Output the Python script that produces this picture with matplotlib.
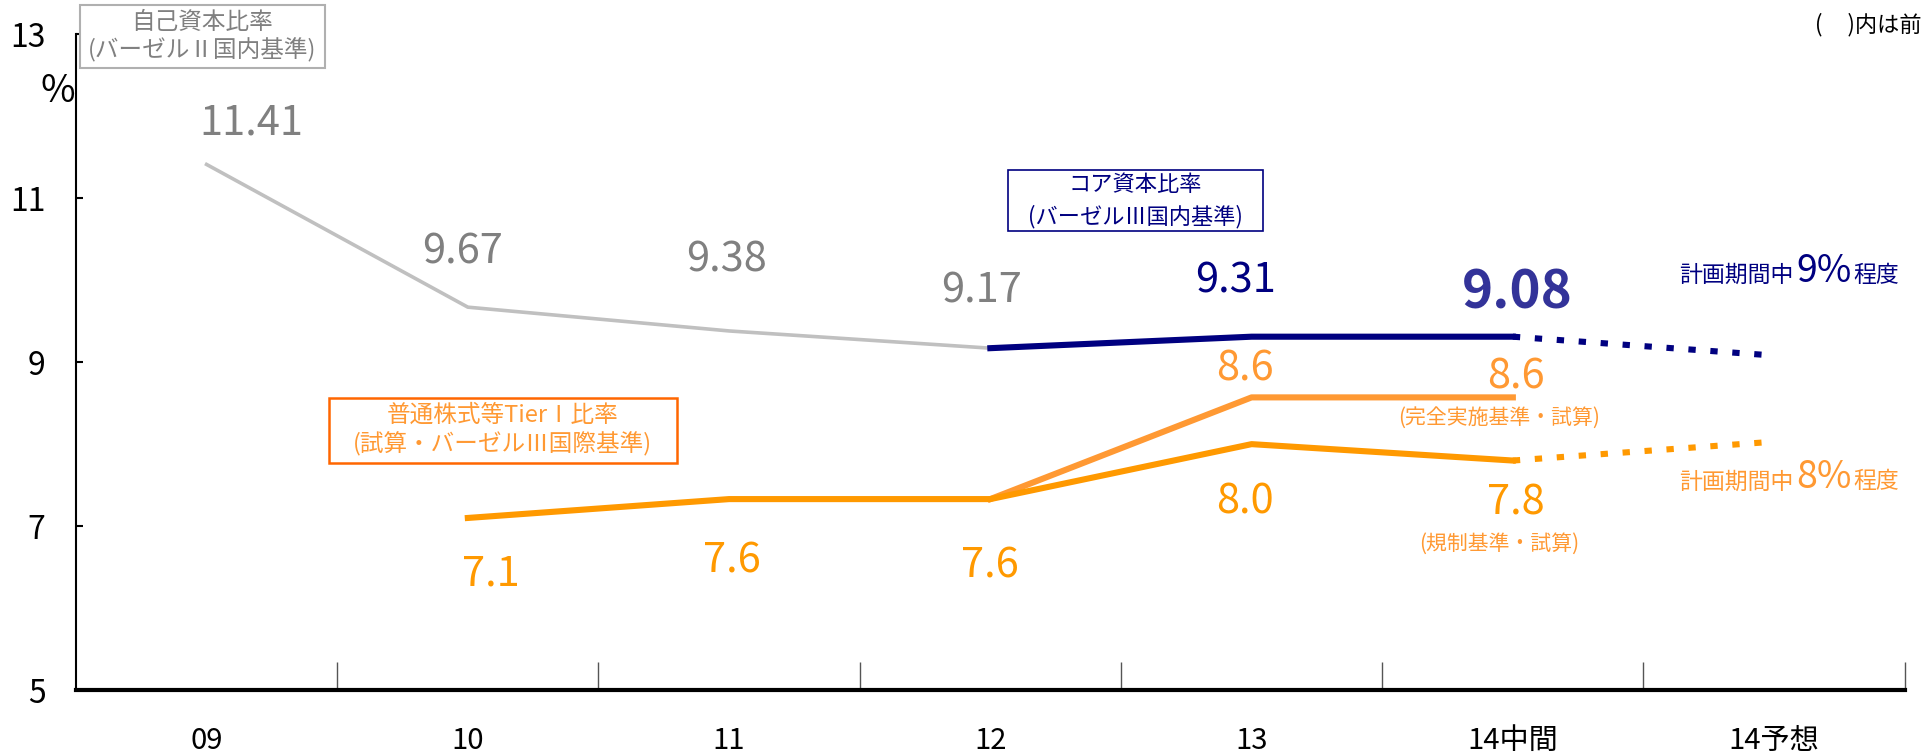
import matplotlib.pyplot as plt
from matplotlib.patches import Rectangle

plt.rcParams['font.family'] = ['Noto Sans CJK JP', 'DejaVu Sans']

# Data
categories = ["09", "10", "11", "12", "13", "14中間", "14予想"]
x = list(range(len(categories)))

# 自己資本比率 (バーゼルII国内基準)
basel2 = [11.41, 9.67, 9.38, 9.17]
basel2_labels = ["11.41", "9.67", "9.38", "9.17"]

# コア資本比率 (バーゼルIII国内基準)
core = [9.17, 9.31, 9.31]
core_plan = [9.31, 9.08]

# 普通株式等TierI比率 (規制基準・試算)
cet1 = [7.1, 7.33, 7.33, 8.0, 7.8]
cet1_plan = [7.8, 8.03]
cet1_labels = ["7.1", "7.6", "7.6", "8.0", "7.8"]

# 完全実施基準・試算
cet1_full = [7.33, 8.57, 8.57]

GRAY_LINE = '#c0c0c0'
GRAY_TEXT = '#808080'
NAVY = '#000080'
NAVY2 = '#333399'
ORANGE = '#ff9900'
ORANGE_LT = '#ff9933'
ORANGE_EDGE = '#ff6600'

fig = plt.figure(figsize=(19.23, 7.53), dpi=100)
ax = fig.add_axes([0.0395, 0.0834, 0.951, 0.8714])

ax.plot(x[0:4], basel2, color=GRAY_LINE, lw=2.6, zorder=2)
ax.plot(x[3:6], core, color=NAVY, lw=4.4, zorder=3)
ax.plot(x[5:7], core_plan, color=NAVY, lw=4.4, ls=(0, (1.2, 2.4)),
        dash_capstyle='butt', zorder=3)
ax.plot(x[3:6], cet1_full, color=ORANGE_LT, lw=4.4, zorder=3)
ax.plot(x[1:6], cet1, color=ORANGE, lw=4.4, zorder=3)
ax.plot(x[5:7], cet1_plan, color=ORANGE, lw=4.4, ls=(0, (1.2, 2.4)),
        dash_capstyle='butt', zorder=3)

ax.set_xlim(-0.5, 6.5)
ax.set_ylim(5, 13)
ax.set_yticks([5, 7, 9, 11, 13])
ax.set_xticks([i + 0.5 for i in range(7)], minor=False)
ax.set_xticklabels([])
ax.set_xticks(x, minor=True)
ax.set_xticklabels(categories, minor=True)
ax.tick_params(axis='x', which='major', direction='in', length=20, width=1, color='#555555')
ax.tick_params(axis='x', which='minor', length=0, pad=26, labelsize=21)
ax.tick_params(axis='y', direction='in', length=5, width=1.5, pad=22, labelsize=23)
for s in ['top', 'right']:
    ax.spines[s].set_visible(False)
ax.spines['bottom'].set_linewidth(3)
ax.spines['left'].set_linewidth(1.5)

num = dict(ha='center', va='center', fontsize=30)

# Gray labels
gray_pos = [(0.17, 11.91), (0.98, 10.34), (1.99, 10.24), (2.965, 9.87)]
for (px, py), t in zip(gray_pos, basel2_labels):
    ax.text(px, py, t, color=GRAY_TEXT, **num)

# Navy labels
ax.text(3.94, 9.99, "9.31", color=NAVY, **num)
ax.text(5.016, 9.84, "9.08", color=NAVY2, ha='center', va='center',
        fontsize=38, fontweight='bold')

# Orange labels
orange_pos = [(1.087, 6.42), (2.012, 6.57), (2.998, 6.52), (3.974, 7.30), (5.01, 7.28)]
for (px, py), t in zip(orange_pos, cet1_labels):
    ax.text(px, py, t, color=ORANGE, **num)
ax.text(3.974, 8.91, "8.6", color=ORANGE_LT, **num)
ax.text(5.01, 8.82, "8.6", color=ORANGE_LT, **num)
ax.text(4.946, 8.32, "(完全実施基準・試算)", color=ORANGE_LT, ha='center', va='center', fontsize=15)
ax.text(4.946, 6.79, "(規制基準・試算)", color=ORANGE_LT, ha='center', va='center', fontsize=15)


# Plan annotations: small text / big percentage / small text on one baseline
def plan_label(xc, yb, big, color):
    ax.text(xc, yb, big, ha='center', va='baseline', color=color, fontsize=27)
    ax.annotate("計画期間中", (xc, yb), ha='right', va='baseline', color=color, fontsize=16.5,
                xytext=(-22, 0), textcoords='offset points')
    ax.annotate("程度", (xc, yb), ha='left', va='baseline', color=color, fontsize=16.5,
                xytext=(21, 0), textcoords='offset points')


plan_label(6.19, 9.98, "9%", NAVY)
plan_label(6.19, 7.46, "8%", ORANGE_LT)


# Boxed series titles
def box_title(x0, x1, y0, y1, text, tcolor, ecolor, fs, lsp, lw):
    ax.add_patch(Rectangle((x0, y0), x1 - x0, y1 - y0, fc='white', ec=ecolor, lw=lw,
                           clip_on=False, zorder=4))
    ax.text((x0 + x1) / 2, (y0 + y1) / 2, text, color=tcolor, ha='center', va='center',
            fontsize=fs, linespacing=lsp, zorder=5, clip_on=False)


box_title(-0.486, 0.453, 12.582, 13.358, "自己資本比率\n(バーゼルⅡ国内基準)",
          GRAY_TEXT, '#b0b0b0', 17, 1.2, 1.5)
box_title(3.068, 4.045, 10.597, 11.343, "コア資本比率\n(バーゼルⅢ国内基準)",
          NAVY, NAVY, 16, 1.45, 1.2)
box_title(0.467, 1.800, 7.776, 8.567, "普通株式等TierⅠ比率\n(試算・バーゼルⅢ国際基準)",
          ORANGE_LT, ORANGE_EDGE, 17, 1.25, 1.8)

fig.text(0.030, 0.878, "%", ha='center', va='center', fontsize=27)
fig.text(0.9995, 0.967, "(     )内は前", ha='right', va='center', fontsize=16)

fig.savefig("out.png")
